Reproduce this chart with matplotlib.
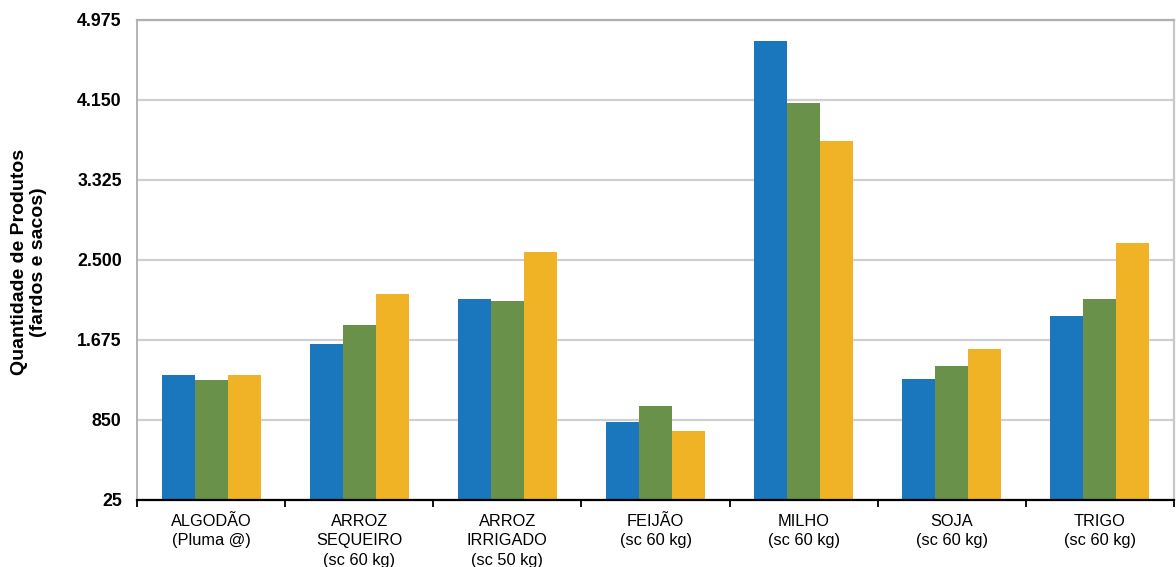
import matplotlib
matplotlib.use("Agg")
import matplotlib.pyplot as plt
from matplotlib.ticker import FixedLocator, FuncFormatter

plt.rcParams["font.family"] = ["Liberation Sans", "DejaVu Sans"]

# dados
categorias = [
    "ALGODÃO\n(Pluma @)",
    "ARROZ\nSEQUEIRO\n(sc 60 kg)",
    "ARROZ\nIRRIGADO\n(sc 50 kg)",
    "FEIJÃO\n(sc 60 kg)",
    "MILHO\n(sc 60 kg)",
    "SOJA\n(sc 60 kg)",
    "TRIGO\n(sc 60 kg)",
]
serie_azul = [1314, 1634, 2098, 829, 4758, 1276, 1919]
serie_verde = [1259, 1830, 2077, 994, 4119, 1404, 2098]
serie_amarela = [1314, 2149, 2582, 737, 3727, 1582, 2672]
y_ticks = [25, 850, 1675, 2500, 3325, 4150, 4975]

cores = ["#1a76bd", "#6a9149", "#f0b325"]

fig = plt.figure(figsize=(11.76, 5.67), dpi=100)
ax = fig.add_axes([137 / 1176, 67 / 567, 1037 / 1176, 480 / 567])

x = list(range(len(categorias)))
w = 0.223
for k, (vals, cor) in enumerate(zip([serie_azul, serie_verde, serie_amarela], cores)):
    xs = [i + (k - 1) * w for i in x]
    ax.bar(xs, [v - y_ticks[0] for v in vals], width=w, bottom=y_ticks[0],
           color=cor, linewidth=0, zorder=3)

ax.set_xlim(-0.5, len(categorias) - 0.5)
ax.set_ylim(y_ticks[0], y_ticks[-1])
ax.yaxis.set_major_locator(FixedLocator(y_ticks))
ax.yaxis.set_major_formatter(FuncFormatter(lambda v, p: f"{v:,.0f}".replace(",", ".")))
ax.tick_params(axis="y", length=0, pad=11, labelsize=12.8)
for lab in ax.get_yticklabels():
    lab.set_fontweight("bold")

ax.set_xticks(x)
ax.set_xticklabels(categorias, fontsize=11.8, linespacing=1.38, va="top")
ax.tick_params(axis="x", which="major", length=0, pad=10)
ax.set_xticks([i - 0.5 for i in range(len(categorias) + 1)], minor=True)
ax.tick_params(axis="x", which="minor", length=5, width=1.3, color="black", direction="out")

ax.grid(axis="y", color="#d0d0d0", linewidth=1.6, zorder=0)
ax.set_axisbelow(True)

ax.spines["bottom"].set_color("black")
ax.spines["bottom"].set_linewidth(1.6)
ax.spines["bottom"].set_zorder(4)
ax.spines["left"].set_color("#a8a8a8")
ax.spines["left"].set_linewidth(1.2)
ax.spines["top"].set_color("#b0b0b0")
ax.spines["top"].set_linewidth(1.6)
ax.spines["right"].set_color("#c8c8c8")
ax.spines["right"].set_linewidth(1.6)

fig.text(29 / 1176, 1 - 262 / 567, "Quantidade de Produtos\n(fardos e sacos)",
         rotation=90, ha="center", va="center", fontsize=14, fontweight="bold",
         linespacing=1.15)

fig.savefig("out.png", dpi=100)
